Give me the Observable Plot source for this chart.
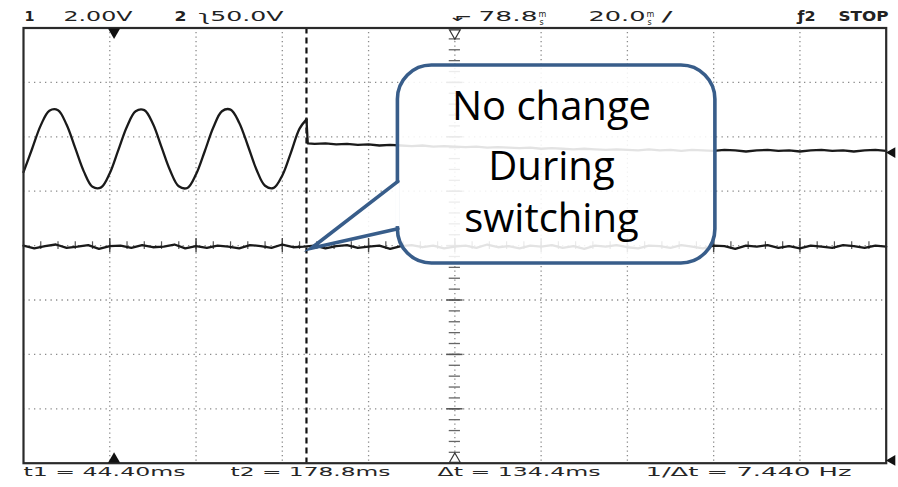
<!DOCTYPE html>
<html><head><meta charset="utf-8">
<script src="https://cdn.jsdelivr.net/npm/d3@7"></script>
<script src="https://cdn.jsdelivr.net/npm/@observablehq/plot@0.6"></script>
<style>body{margin:0;background:#fff;}#chart svg{display:block;}</style>
</head><body><div id="chart"></div>
<script>
// ---- Data (time in ms across the 10-division screen, amplitude in divisions) ----
const sineT = [0,2,4,6,8,10,12,14,16,18,20,22,24,26,28,30,32,34,36,38,40,42,44,46,48,50,52,54,56,58,60,62,64,65.6];
const sineV = [1.35,1.78,2.21,2.48,2.49,2.22,1.79,1.36,1.08,1.07,1.33,1.76,2.19,2.47,2.49,2.24,1.81,1.38,1.09,1.06,1.31,1.73,2.17,2.47,2.50,2.26,1.84,1.40,1.10,1.06,1.29,1.71,2.15,2.32];
const flatT = [65.6,65.9,67.5,70,72.5,75,77.5,80,82.5,85,87.5,90,92.5,95,97.5,100,102.5,105,107.5,110,112.5,115,117.5,120,122.5,125,127.5,130,132.5,135,137.5,140,142.5,145,147.5,150,152.5,155,157.5,160,162.5,165,167.5,170,172.5,175,177.5,180,182.5,185,187.5,190,192.5,195,197.5,200];
const flatV = [2.32,1.88,1.87,1.88,1.86,1.87,1.85,1.86,1.84,1.85,1.84,1.83,1.84,1.82,1.83,1.82,1.81,1.82,1.80,1.81,1.80,1.79,1.80,1.78,1.79,1.78,1.77,1.78,1.77,1.76,1.77,1.76,1.75,1.77,1.75,1.76,1.74,1.76,1.75,1.74,1.76,1.75,1.73,1.75,1.76,1.74,1.75,1.73,1.75,1.76,1.74,1.75,1.73,1.75,1.76,1.74];
const ch2V = [0.00,-0.05,-0.01,0.02,-0.04,-0.02,0.01,-0.06,-0.01,0.00,-0.04,0.01,-0.03,-0.02,0.02,-0.05,-0.01,-0.04,0.00,-0.02,-0.05,0.01,-0.01,-0.04,0.02,-0.03,-0.02,0.00,-0.05,-0.01,0.01,-0.04,-0.02,0.00,-0.06,-0.01,0.01,-0.03,0.00,-0.05,-0.02,0.00,-0.04,0.02,-0.03,-0.01,-0.05,0.00,-0.02,0.01,-0.04,-0.01,-0.06,0.00,-0.02,0.01,-0.03,-0.05,0.00,-0.01,-0.04,0.01,-0.02,-0.05,0.00,-0.01,-0.06,0.00,-0.02,0.01,-0.04,-0.01,-0.05,0.00,-0.02,-0.04,0.01,-0.01,-0.04,0.00,-0.02];
const ch2T = ch2V.map((v, i) => i * 200 / (ch2V.length - 1));

const cursorT1 = 21;      // ms
const cursorT2 = 65.6;    // ms
const triggerT = 100;     // ms (screen centre)
const chMarkers = [1.71, -3.95];

const gridX = [20,40,60,80,100,120,140,160,180];
const gridY = [-3,-2,-1,0,1,2,3];

const headerLabels = ["1","2.00V","2","ʅ50.0V","⬐","78.8","20.0","/","ƒ2","STOP"];
const headerBold   = [true,false,true,false,false,false,false,false,true,true];
const headerX      = [24,63,174,198,451,478,588,661,797,838];
const headerW      = [10,69,12,85,20,59,57,11,18,50];
const unitLabels   = ["m","s","m","s"];
const unitX        = [538,539,646,647];
const unitY        = [16,24,16,24];

const footerLabels = ["t1 = 44.40ms","t2 = 178.8ms","Δt = 134.4ms","1/Δt = 7.440 Hz"];
const footerX      = [23,230,437,645];
const footerW      = [162,160,163,206];

const calloutLines = ["No change","During","switching"];
const calloutLineY = [2.30,1.20,0.25];

// ---- Layout ----
const W = 898, H = 487, mL = 23, mR = 12.3, mT = 27.5, mB = 24.3;
const box = {x1: 86.8, x2: 160.4, y1: -0.33, y2: 3.31};
const tail = {tipX: 66.7, tipY: -0.05, baseX: 86.8, yTop: 1.18, yBot: 0.31};
const blue = "#385D8A";
const fontScope = "DejaVu Sans";

const sine = sineT.map((t, i) => ({t, v: sineV[i]}));
const flat = flatT.map((t, i) => ({t, v: flatV[i]}));
const ch2 = ch2T.map((t, i) => ({t, v: ch2V[i]}));
const minorY = d3.range(-4, 4.001, 0.2);
const minorX = d3.range(0, 200.001, 4);
const tailFill = [[tail.tipX, tail.tipY],[tail.baseX, tail.yTop],[tail.baseX + 0.6, tail.yTop],[tail.baseX + 0.6, tail.yBot],[tail.baseX, tail.yBot]];
const tailEdge = [[tail.baseX, tail.yTop],[tail.tipX, tail.tipY],[tail.baseX, tail.yBot]];

const headerMarks = headerLabels.map((s, i) => Plot.text([s], {
  frameAnchor: "top-left", dx: headerX[i] - mL, dy: 20 - mT, text: d => d,
  textAnchor: "start", lineAnchor: "bottom", fontFamily: fontScope, fontSize: 13.5,
  fontWeight: headerBold[i] ? "bold" : "normal", fill: "#222"
}));
const unitMarks = unitLabels.map((s, i) => Plot.text([s], {
  frameAnchor: "top-left", dx: unitX[i] - mL, dy: unitY[i] - mT, text: d => d,
  textAnchor: "start", lineAnchor: "bottom", fontFamily: fontScope, fontSize: 8, fill: "#222"
}));
const footerMarks = footerLabels.map((s, i) => Plot.text([s], {
  frameAnchor: "bottom-left", dx: footerX[i] - mL, dy: 475.5 - (H - mB), text: d => d,
  textAnchor: "start", lineAnchor: "bottom", fontFamily: fontScope, fontSize: 12, fill: "#262626"
}));

const chart = Plot.plot({
  width: W, height: H,
  marginLeft: mL, marginRight: mR, marginTop: mT, marginBottom: mB,
  x: {domain: [0, 200], axis: null},
  y: {domain: [-4, 4], axis: null},
  style: {background: "#fff", overflow: "visible"},
  marks: [
    // dotted graticule
    Plot.ruleX(gridX, {stroke: "#8a8a8a", strokeWidth: 1.3, strokeDasharray: "1.3,3.2"}),
    Plot.ruleY(gridY, {stroke: "#8a8a8a", strokeWidth: 1.3, strokeDasharray: "1.3,4.2"}),
    // centre axis ticks
    Plot.ruleY(minorY, {x1: triggerT - 1.3, x2: triggerT + 1.3, stroke: "#666", strokeWidth: 1.3}),
    Plot.ruleY(gridY, {x1: triggerT - 1.9, x2: triggerT + 1.9, stroke: "#555", strokeWidth: 1.5}),
    Plot.ruleX(minorX, {y1: -0.07, y2: 0.07, stroke: "#555", strokeWidth: 1.2}),
    Plot.ruleX(gridX, {y1: -0.13, y2: 0.13, stroke: "#444", strokeWidth: 1.4}),
    // cursor t2
    Plot.ruleX([cursorT2], {stroke: "#111", strokeWidth: 2.2, strokeDasharray: "6,4"}),
    // traces
    Plot.line(ch2, {x: "t", y: "v", stroke: "#1a1a1a", strokeWidth: 2.3}),
    Plot.line(sine, {x: "t", y: "v", stroke: "#1a1a1a", strokeWidth: 2.3, curve: "catmull-rom"}),
    Plot.line(flat, {x: "t", y: "v", stroke: "#1a1a1a", strokeWidth: 2.3}),
    // frame
    Plot.frame({stroke: "#2a2a2a", strokeWidth: 2.2}),
    // cursor / trigger / channel markers
    Plot.dot([cursorT1], {x: d => d, y: 4, dy: 4, symbol: "triangle", r: 4.5, fill: "#111", stroke: "none", rotate: 180}),
    Plot.dot([cursorT1], {x: d => d, y: -4, dy: -4, symbol: "triangle", r: 4.5, fill: "#111", stroke: "none"}),
    Plot.dot([triggerT], {x: d => d, y: 4, dy: 5, symbol: "triangle", r: 4, fill: "#fff", stroke: "#333", strokeWidth: 1.2, rotate: 180}),
    Plot.dot([triggerT], {x: d => d, y: -4, dy: -4, symbol: "triangle", r: 4, fill: "#fff", stroke: "#333", strokeWidth: 1.2}),
    Plot.dot(chMarkers, {x: 200, y: d => d, dx: 6, symbol: "triangle", r: 4, fill: "#111", stroke: "none", rotate: -90}),
    // callout
    Plot.line(tailFill, {x: d => d[0], y: d => d[1], fill: "#fff", fillOpacity: 0.88, stroke: "none"}),
    Plot.rect([box], {x1: "x1", x2: "x2", y1: "y1", y2: "y2", rx: 34, fill: "#fff", fillOpacity: 0.88, stroke: blue, strokeWidth: 3.6}),
    Plot.rect([tail], {x1: tail.baseX - 0.55, x2: tail.baseX + 0.55, y1: tail.yBot + 0.04, y2: tail.yTop - 0.04, fill: "#fff", stroke: "none"}),
    Plot.line(tailEdge, {x: d => d[0], y: d => d[1], stroke: blue, strokeWidth: 3.6, strokeLinejoin: "miter", strokeMiterlimit: 20}),
    Plot.text(calloutLines, {x: 122.4, y: (d, i) => calloutLineY[i], text: d => d, textAnchor: "middle", lineAnchor: "bottom", fontFamily: "Open Sans", fontSize: 40, fill: "#000"}),
    ...headerMarks, ...unitMarks, ...footerMarks
  ]
});

// stretch the scope's header/footer strings to its wide character cell
const widths = new Map([...headerLabels.map((s, i) => [s, headerW[i]]), ...footerLabels.map((s, i) => [s, footerW[i]])]);
d3.select(chart).selectAll("text").each(function() {
  const s = this.textContent;
  if (widths.has(s)) d3.select(this).attr("textLength", widths.get(s)).attr("lengthAdjust", "spacingAndGlyphs");
});
document.getElementById("chart").append(chart);
</script>
</body></html>
